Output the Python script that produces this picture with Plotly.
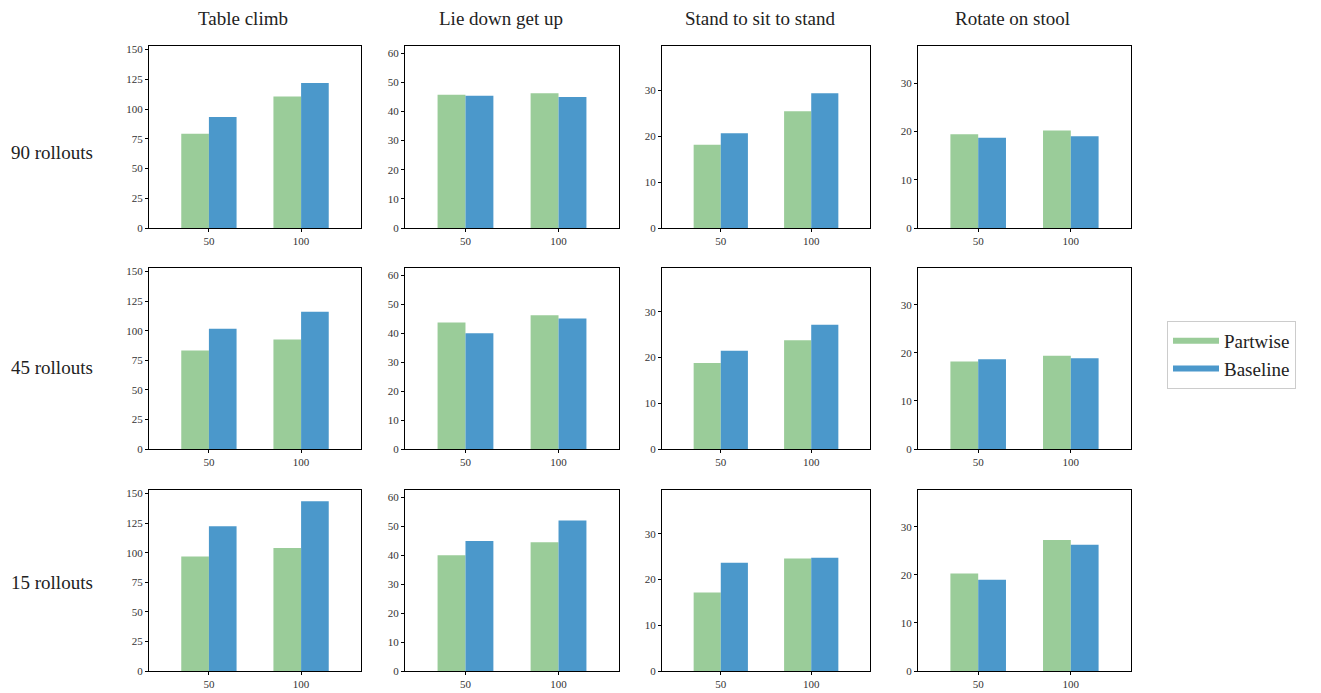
import plotly.graph_objects as go

# Task names (columns) and rollout budgets (rows)
tasks = ["Table climb", "Lie down get up", "Stand to sit to stand", "Rotate on stool"]
rollouts = ["90 rollouts", "45 rollouts", "15 rollouts"]
x_labels = ["50", "100"]

# Values per row (rollouts) and column (task): [value at 50, value at 100]
partwise = [
    [[79.3, 110.6], [45.8, 46.3], [18.1, 25.4], [19.4, 20.2]],
    [[83.3, 92.6], [43.7, 46.2], [18.8, 23.8], [18.2, 19.4]],
    [[96.8, 103.9], [40.0, 44.5], [17.2, 24.6], [20.3, 27.3]],
]
baseline = [
    [[93.3, 121.8], [45.4, 45.0], [20.6, 29.3], [18.7, 19.0]],
    [[101.7, 116.1], [40.0, 45.1], [21.5, 27.2], [18.7, 18.9]],
    [[122.3, 143.5], [44.9, 52.0], [23.7, 24.8], [19.0, 26.3]],
]

# Shared y scale per column
y_max = [153, 62.5, 39.6, 37.7]
y_dtick = [25, 10, 10, 10]

GREEN = "#9acc99"
BLUE = "#4b98cb"
FONT = "Liberation Serif"
W, H = 1321, 693

# Panel boxes in pixels
col_px = [(149, 361), (405, 619), (662, 870), (918, 1131)]
row_px = [(46, 228), (268, 449), (490, 671)]

fig = go.Figure()
layout = {}
for r in range(3):
    for c in range(4):
        k = r * 4 + c + 1
        xa = "x" if k == 1 else f"x{k}"
        ya = "y" if k == 1 else f"y{k}"
        fig.add_trace(go.Bar(x=[0, 1], y=partwise[r][c], xaxis=xa, yaxis=ya,
                             marker=dict(color=GREEN, line=dict(width=0)),
                             showlegend=False, name="Partwise"))
        fig.add_trace(go.Bar(x=[0, 1], y=baseline[r][c], xaxis=xa, yaxis=ya,
                             marker=dict(color=BLUE, line=dict(width=0)),
                             showlegend=False, name="Baseline"))
        x0, x1 = col_px[c]
        y0, y1 = row_px[r]
        axis_common = dict(showline=True, linecolor="black", linewidth=1, mirror=True,
                           ticks="outside", ticklen=3, tickcolor="black", showgrid=False,
                           zeroline=False, automargin=False,
                           tickfont=dict(family=FONT, size=11, color="#333"))
        layout["xaxis" if k == 1 else f"xaxis{k}"] = dict(
            domain=[x0 / W, x1 / W], anchor=ya, range=[-0.65, 1.65],
            tickvals=[0, 1], ticktext=x_labels, **axis_common)
        layout["yaxis" if k == 1 else f"yaxis{k}"] = dict(
            domain=[1 - y1 / H, 1 - y0 / H], anchor=xa, range=[0, y_max[c]],
            dtick=y_dtick[c], tick0=0, **axis_common)

# Legend entries drawn as thick line swatches
fig.add_trace(go.Scatter(x=[None], y=[None], mode="lines", name="Partwise",
                         line=dict(color=GREEN, width=6)))
fig.add_trace(go.Scatter(x=[None], y=[None], mode="lines", name="Baseline",
                         line=dict(color=BLUE, width=6)))

annotations = []
title_cx = [243, 501, 760, 1012]
for c, t in enumerate(tasks):
    annotations.append(dict(text=t, x=title_cx[c] / W, y=1 - 18 / H, xref="paper", yref="paper",
                            showarrow=False, xanchor="center", yanchor="middle",
                            font=dict(family=FONT, size=19, color="#222")))
row_cy = [152, 367, 582]
for r, t in enumerate(rollouts):
    annotations.append(dict(text=t, x=9 / W, y=1 - row_cy[r] / H, xref="paper", yref="paper",
                            showarrow=False, xanchor="left", yanchor="middle",
                            font=dict(family=FONT, size=19, color="#222")))

fig.update_layout(
    width=W, height=H, margin=dict(l=0, r=0, t=0, b=0),
    plot_bgcolor="white", paper_bgcolor="white",
    barmode="group", bargap=0.4, bargroupgap=0,
    annotations=annotations,
    legend=dict(x=1167 / W, y=1 - 321 / H, xanchor="left", yanchor="top",
                bordercolor="#cccccc", borderwidth=1, bgcolor="white",
                font=dict(family=FONT, size=19, color="#222"), itemwidth=46,
                tracegroupgap=0),
    **layout,
)

fig.write_html("out.html")
